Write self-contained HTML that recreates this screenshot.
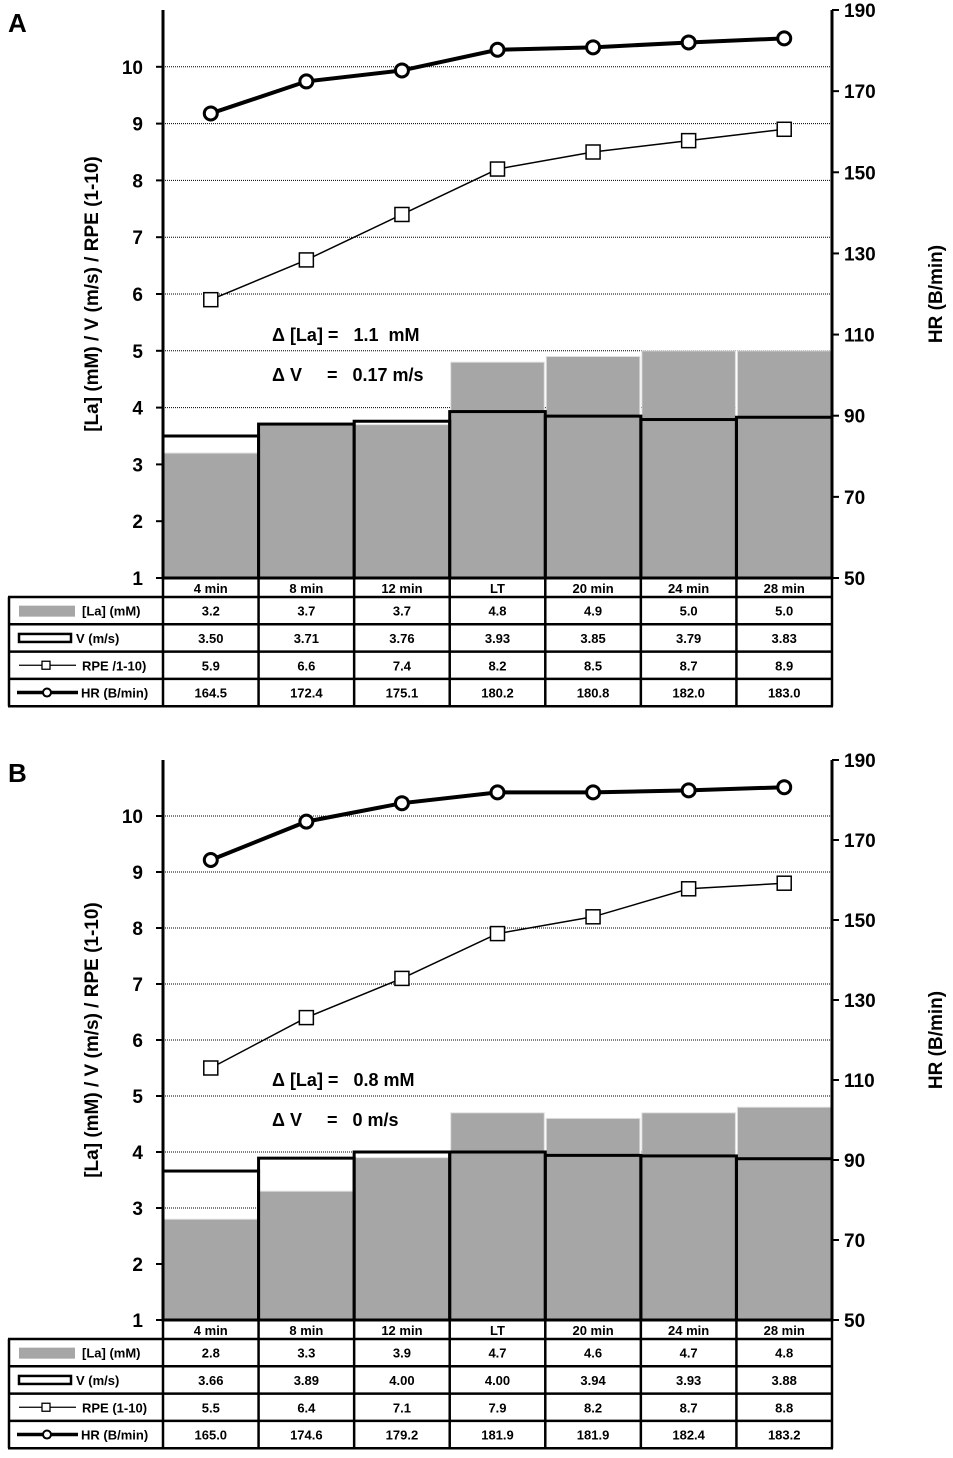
<!DOCTYPE html>
<html><head><meta charset="utf-8"><style>
body{margin:0;background:#fff}
svg text{font-family:"Liberation Sans",Arial,sans-serif;font-weight:bold;fill:#000}
</style></head><body>
<svg id="s" width="953" height="1453" xmlns="http://www.w3.org/2000/svg"></svg>
<script>
const categories = ["4 min","8 min","12 min","LT","20 min","24 min","28 min"];
const laA = [3.2,3.7,3.7,4.8,4.9,5.0,5.0];
const vA = [3.50,3.71,3.76,3.93,3.85,3.79,3.83];
const rpeA = [5.9,6.6,7.4,8.2,8.5,8.7,8.9];
const hrA = [164.5,172.4,175.1,180.2,180.8,182.0,183.0];
const laB = [2.8,3.3,3.9,4.7,4.6,4.7,4.8];
const vB = [3.66,3.89,4.00,4.00,3.94,3.93,3.88];
const rpeB = [5.5,6.4,7.1,7.9,8.2,8.7,8.8];
const hrB = [165.0,174.6,179.2,181.9,181.9,182.4,183.2];
const leftTicks = [1,2,3,4,5,6,7,8,9,10];
const rightTicks = [50,70,90,110,130,150,170,190];
const deltaA = ["1.1  mM","0.17 m/s"];
const deltaB = ["0.8 mM","0 m/s"];

const NS="http://www.w3.org/2000/svg";
const svg=document.getElementById('s');
function mk(tag,attrs,parent,txt){const e=document.createElementNS(NS,tag);for(const k in attrs)e.setAttribute(k,attrs[k]);if(txt!==undefined)e.textContent=txt;(parent||svg).appendChild(e);return e;}

function panel(letter,top,y1,unit,la,v,rpe,hr,delta,rpeLabel){
  const g=mk('g',{});
  
  
  const xL=163,xR=832,colW=(xR-xL)/categories.length;
  const yL=val=>y1-(val-1)*unit;
  const hrUnit=(y1-top)/140;
  const yR=val=>y1-(val-50)*hrUnit;
  const xc=i=>xL+colW*(i+0.5);
  const lt=mk('text',{x:8,y:top+22,'font-size':26},g,letter);
  
  
  // grid
  for(const t of leftTicks){ if(t===1)continue;
    const gl=mk('line',{x1:xL,x2:xR,y1:yL(t),y2:yL(t),stroke:'#000','stroke-width':1,'stroke-dasharray':'1,1'},g);
    
    
  }
  // la bars
  la.forEach((val,i)=>{
    const r=mk('rect',{x:xL+colW*i+1,y:yL(val),width:colW-2,height:y1-yL(val),fill:'#a6a6a6',stroke:'#e0e0e0','stroke-width':1},g);
    
    
  });
  // v bars
  v.forEach((val,i)=>{
    const r=mk('rect',{x:xL+colW*i,y:yL(val),width:colW,height:y1-yL(val),fill:'none',stroke:'#000','stroke-width':3},g);
    
    
  });
  // axes
  mk('line',{x1:xL,x2:xL,y1:top,y2:y1,stroke:'#000','stroke-width':3},g);
  mk('line',{x1:xR,x2:xR,y1:top,y2:y1,stroke:'#000','stroke-width':3},g);
  for(const t of leftTicks){
    mk('line',{x1:xL-7,x2:xL,y1:yL(t),y2:yL(t),stroke:'#000','stroke-width':2},g);
    const tx=mk('text',{x:xL-20,y:yL(t)+7,'font-size':19,'text-anchor':'end'},g,t);
    
    
  }
  for(const t of rightTicks){
    mk('line',{x1:xR,x2:xR+7,y1:yR(t),y2:yR(t),stroke:'#000','stroke-width':2},g);
    const tx=mk('text',{x:xR+12,y:yR(t)+7,'font-size':19},g,t);
    
    
  }
  const mid=(top+y1)/2;
  const lt2=mk('text',{x:0,y:0,'font-size':19,'text-anchor':'middle',transform:`translate(98,${mid}) rotate(-90)`},g,'[La] (mM) / V (m/s) / RPE (1-10)');
  
  
  const rt=mk('text',{x:0,y:0,'font-size':19,'text-anchor':'middle',transform:`translate(942,${mid}) rotate(-90)`},g,'HR (B/min)');
  
  
  // delta text
  const d1=mk('text',{x:272,y:yL(5)-10,'font-size':18},g,'\u0394 [La] =   '+delta[0]);
  d1.setAttribute('xml:space','preserve');d1.style.whiteSpace='pre';
  
  
  const d2=mk('text',{x:272,y:yL(5)+30,'font-size':18},g,'\u0394 V     =   '+delta[1]);
  d2.style.whiteSpace='pre';
  
  
  // rpe line
  const rp=mk('polyline',{points:rpe.map((val,i)=>xc(i)+','+yL(val)).join(' '),fill:'none',stroke:'#000','stroke-width':1.5},g);
  
  
  rpe.forEach((val,i)=>{
    const r=mk('rect',{x:xc(i)-7,y:yL(val)-7,width:14,height:14,fill:'#fff',stroke:'#000','stroke-width':1.5},g);
    
    
  });
  const hp=mk('polyline',{points:hr.map((val,i)=>xc(i)+','+yR(val)).join(' '),fill:'none',stroke:'#000','stroke-width':4},g);
  
  
  hr.forEach((val,i)=>{
    const c=mk('circle',{cx:xc(i),cy:yR(val),r:6.5,fill:'#fff',stroke:'#000','stroke-width':3},g);
    
    
  });
  // table
  const hdrB=y1+19,rowH=27.3,tb=hdrB+rowH*4;
  categories.forEach((c,i)=>{
    const t=mk('text',{x:xc(i),y:y1+15,'font-size':13,'text-anchor':'middle'},g,c);
    
    
  });
  for(let i=0;i<=categories.length;i++){
    mk('line',{x1:xL+colW*i,x2:xL+colW*i,y1:y1,y2:tb,stroke:'#000','stroke-width':2.5},g);
  }
  mk('line',{x1:9,x2:9,y1:hdrB,y2:tb,stroke:'#000','stroke-width':2.5},g);
  for(let r=0;r<=4;r++) mk('line',{x1:8,x2:xR+1,y1:hdrB+rowH*r,y2:hdrB+rowH*r,stroke:'#000','stroke-width':2.5},g);
  const rows=[la.map(x=>x.toFixed(1)),v.map(x=>x.toFixed(2)),rpe.map(x=>x.toFixed(1)),hr.map(x=>x.toFixed(1))];
  const labels=['[La] (mM)','V (m/s)',rpeLabel,'HR (B/min)'];
  rows.forEach((row,r)=>{
    const cy=hdrB+rowH*r+rowH/2;
    row.forEach((s,i)=>{
      const t=mk('text',{x:xc(i),y:cy+5,'font-size':13,'text-anchor':'middle'},g,s);
      
      
    });
    const lab=mk('text',{x:r===3?81:(r===2?82:(r===1?76:82)),y:cy+5,'font-size':13},g,labels[r]);
    
    
    if(r===0) mk('rect',{x:19,y:cy-5,width:56,height:11,fill:'#a6a6a6'},g);
    if(r===1) mk('rect',{x:19,y:cy-4,width:52,height:8,fill:'#fff',stroke:'#000','stroke-width':2.5},g);
    if(r===2){mk('line',{x1:19,x2:76,y1:cy,y2:cy,stroke:'#000','stroke-width':1.3},g);mk('rect',{x:42,y:cy-4,width:8,height:8,fill:'#fff',stroke:'#000','stroke-width':1.3},g);}
    if(r===3){mk('line',{x1:17,x2:78,y1:cy,y2:cy,stroke:'#000','stroke-width':3.5},g);mk('circle',{cx:47,cy:cy,r:4,fill:'#fff',stroke:'#000','stroke-width':2},g);}
  });
}
panel('A',10,578,56.8,laA,vA,rpeA,hrA,deltaA,'RPE /1-10)');
panel('B',760,1320,56,laB,vB,rpeB,hrB,deltaB,'RPE (1-10)');
</script>
</body></html>
